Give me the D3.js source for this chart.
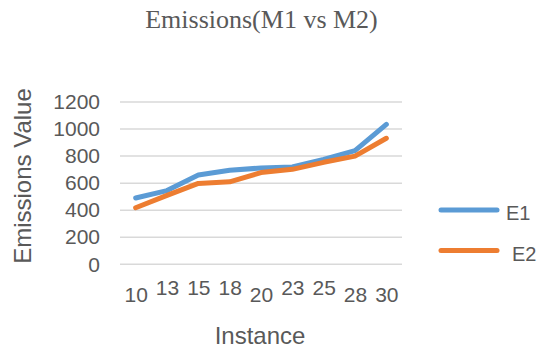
<!DOCTYPE html>
<html>
<head>
<meta charset="utf-8">
<script src="https://cdn.jsdelivr.net/npm/d3@7"></script>
<style>
  html, body { margin: 0; padding: 0; background: #fff; }
  svg { display: block; }
</style>
</head>
<body>
<svg id="chart" width="537" height="352"></svg>
<script>
// ---- data ----
const categories = ["10", "13", "15", "18", "20", "23", "25", "28", "30"];
const e1Values = [490, 545, 660, 695, 712, 720, 775, 840, 1035];
const e2Values = [418, 510, 598, 610, 678, 702, 754, 800, 932];
const seriesNames = ["E1", "E2"];
const yTicks = [0, 200, 400, 600, 800, 1000, 1200];
const titleText = "Emissions(M1 vs M2)";
const xTitle = "Instance";
const yTitle = "Emissions Value";

// ---- layout ----
const plot = { left: 120, right: 402, top: 102, bottom: 264.3 };
const colors = ["#5B9BD5", "#ED7D31"];
const textColor = "#595959";
const sans = "'Liberation Sans', Arial, sans-serif";
// Excel-style staggered tick label placement (true = raised)
const raised = [false, true, true, true, false, true, true, false, false];

const svg = d3.select("#chart");

const x = d3.scalePoint().domain(categories).range([plot.left, plot.right]).padding(0.5);
const y = d3.scaleLinear().domain([0, 1200]).range([plot.bottom, plot.top]);

// gridlines
svg.append("g").selectAll("line").data(yTicks).join("line")
  .attr("x1", plot.left).attr("x2", plot.right)
  .attr("y1", d => y(d)).attr("y2", d => y(d))
  .attr("stroke", "#D9D9D9").attr("stroke-width", 1.5);

// y axis labels
const yAxis = d3.axisLeft(y).tickValues(yTicks).tickFormat(d3.format("d")).tickSize(0).tickPadding(0);
const gy = svg.append("g").attr("transform", `translate(100,0)`).call(yAxis);
gy.select(".domain").remove();
gy.selectAll("text").attr("fill", textColor).attr("font-family", sans).attr("font-size", 21);

// x axis labels
const xAxis = d3.axisBottom(x).tickSize(0).tickPadding(0);
const gx = svg.append("g").attr("transform", `translate(0,${plot.bottom})`).call(xAxis);
gx.select(".domain").remove();
gx.selectAll("text")
  .attr("fill", textColor).attr("font-family", sans).attr("font-size", 21)
  .attr("dy", null)
  .attr("y", (d, i) => raised[i] ? 30.5 : 37.5);

// lines
const line = d3.line().x((d, i) => x(categories[i])).y(d => y(d));
[e1Values, e2Values].forEach((vals, k) => {
  svg.append("path").datum(vals)
    .attr("d", line)
    .attr("fill", "none")
    .attr("stroke", colors[k])
    .attr("stroke-width", 5)
    .attr("stroke-linejoin", "round")
    .attr("stroke-linecap", "round");
});

// title
svg.append("text").attr("x", 261.5).attr("y", 28)
  .attr("text-anchor", "middle")
  .attr("font-family", "'Liberation Serif', 'Times New Roman', serif")
  .attr("font-size", 26).attr("fill", textColor)
  .text(titleText);

// axis titles
svg.append("text").attr("x", 260).attr("y", 344)
  .attr("text-anchor", "middle").attr("font-family", sans)
  .attr("font-size", 24).attr("fill", textColor).text(xTitle);

svg.append("text")
  .attr("transform", "translate(31,176) rotate(-90)")
  .attr("text-anchor", "middle").attr("font-family", sans)
  .attr("font-size", 24).attr("fill", textColor).text(yTitle);

// legend
const legY = [210, 250.5];
const legTextX = [506, 512];
seriesNames.forEach((name, k) => {
  svg.append("line")
    .attr("x1", 441).attr("x2", 497)
    .attr("y1", legY[k]).attr("y2", legY[k])
    .attr("stroke", colors[k]).attr("stroke-width", 5)
    .attr("stroke-linecap", "round");
  svg.append("text").attr("x", legTextX[k]).attr("y", legY[k] + 10)
    .attr("font-family", sans).attr("font-size", 20).attr("fill", textColor)
    .text(name);
});
</script>
</body>
</html>
